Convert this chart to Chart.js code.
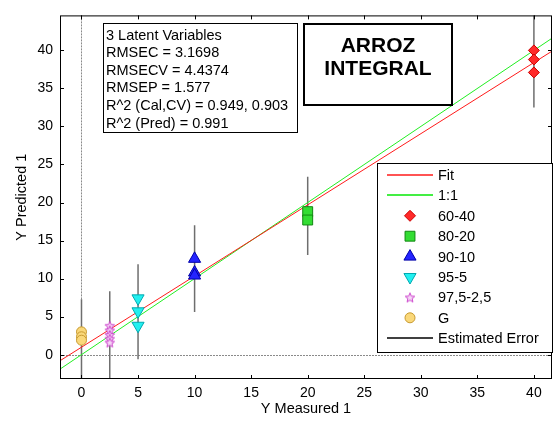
<!DOCTYPE html>
<html>
<head>
<meta charset="utf-8">
<script src="https://cdn.jsdelivr.net/npm/chart.js@4.4.0/dist/chart.umd.min.js"></script>
<style>
html, body { margin: 0; padding: 0; background: #fff; }
</style>
</head>
<body>
<canvas id="c" width="560" height="423"></canvas>
<script>
// values
const groups = ['60-40', '80-20', '90-10', '95-5', '97,5-2,5', 'G'];
const measured = [40, 20, 10, 5, 2.5, 0];
const pred6040 = [40.0, 38.8, 37.1];
const pred8020 = [18.8, 17.7];
const pred9010 = [12.6, 10.8, 10.4];
const pred955 = [7.4, 5.7, 3.8];
const pred9752 = [3.8, 3.2, 2.6, 2.1, 1.6];
const predG = [3.0, 2.35, 1.9];
const errLow = [32.5, 13.1, 5.6, -0.6, -5, -5];
const errHigh = [47, 23.4, 17.0, 11.9, 8.35, 7.3];
const lineX = [-1.9, 41.6];
const fitY = [-0.8, 39.9];
const oneY = [-1.9, 41.6];
const xTicks = [0, 5, 10, 15, 20, 25, 30, 35, 40];
const yTicks = [0, 5, 10, 15, 20, 25, 30, 35, 40];
const statsLines = ['3 Latent Variables', 'RMSEC = 3.1698', 'RMSECV = 4.4374', 'RMSEP = 1.577',
  'R^2 (Cal,CV) = 0.949, 0.903', 'R^2 (Pred) = 0.991'];
const titleLines = ['ARROZ', 'INTEGRAL'];

const FONT = 'Arial, "Liberation Sans", sans-serif';

function makeStar(size, fill, stroke) {
  const c = document.createElement('canvas');
  c.width = size; c.height = size;
  const g = c.getContext('2d');
  const cx = size / 2, cy = size / 2 + 0.5, R = size / 2 - 1, r = R * 0.45;
  g.beginPath();
  for (let i = 0; i < 10; i++) {
    const a = -Math.PI / 2 + i * Math.PI / 5;
    const rr = i % 2 ? r : R;
    g.lineTo(cx + rr * Math.cos(a), cy + rr * Math.sin(a));
  }
  g.closePath();
  g.fillStyle = fill; g.fill();
  g.strokeStyle = stroke; g.lineWidth = 1; g.stroke();
  return c;
}

const styles = [
  { pointStyle: 'rectRot', radius: 5.5, rotation: 0, bg: '#ff2a2a', border: '#cc0000' },
  { pointStyle: 'rect', radius: 7, rotation: 0, bg: '#33dd33', border: '#118811' },
  { pointStyle: 'triangle', radius: 7, rotation: 0, bg: '#2424ff', border: '#0000aa' },
  { pointStyle: 'triangle', radius: 7, rotation: 180, bg: '#22f0f0', border: '#00a8b0' },
  { pointStyle: makeStar(12, '#f6d6f6', '#cc44cc'), radius: 6, rotation: 0, bg: '#f6d6f6', border: '#cc44cc' },
  { pointStyle: 'circle', radius: 5, rotation: 0, bg: '#fad87a', border: '#c89a30' }
];
const preds = [pred6040, pred8020, pred9010, pred955, pred9752, predG];

const datasets = [];
groups.forEach((g, i) => {
  const s = styles[i];
  datasets.push({
    label: g,
    data: preds[i].map(y => ({ x: measured[i], y: y })),
    showLine: false,
    pointStyle: s.pointStyle,
    pointRadius: s.radius,
    pointRotation: s.rotation,
    pointBackgroundColor: s.bg,
    pointBorderColor: s.border,
    pointBorderWidth: 1,
    order: 0
  });
  datasets.push({
    label: 'Estimated Error',
    data: [{ x: measured[i], y: errLow[i] }, { x: measured[i], y: errHigh[i] }],
    showLine: true,
    borderColor: '#6e6e6e',
    borderWidth: 1.5,
    pointRadius: 0,
    order: 2
  });
});
datasets.push({
  label: 'Fit',
  data: lineX.map((x, i) => ({ x: x, y: fitY[i] })),
  showLine: true, borderColor: '#ff1a1a', borderWidth: 1, pointRadius: 0, order: 1
});
datasets.push({
  label: '1:1',
  data: lineX.map((x, i) => ({ x: x, y: oneY[i] })),
  showLine: true, borderColor: '#22ee22', borderWidth: 1, pointRadius: 0, order: 1
});

// dotted zero lines behind the data
const zeroLines = {
  id: 'zeroLines',
  beforeDatasetsDraw(chart) {
    const { ctx, chartArea: a, scales: { x, y } } = chart;
    ctx.save();
    ctx.lineWidth = 1;
    ctx.strokeStyle = '#8a8a8a';
    ctx.setLineDash([2, 1]);
    const py = Math.round(y.getPixelForValue(0)) + 0.5;
    ctx.beginPath(); ctx.moveTo(a.left, py); ctx.lineTo(a.right, py); ctx.stroke();
    const px = Math.round(x.getPixelForValue(0)) + 0.5;
    ctx.beginPath(); ctx.moveTo(px, a.top); ctx.lineTo(px, a.bottom); ctx.stroke();
    ctx.restore();
  }
};

// frame, inward ticks, text boxes and legend on top
const decor = {
  id: 'decor',
  afterDraw(chart) {
    const { ctx, chartArea: a, scales: { x, y } } = chart;
    ctx.save();
    ctx.strokeStyle = '#000';
    ctx.lineWidth = 1;
    ctx.strokeRect(a.left + 0.5, a.top + 0.5, a.right - a.left - 1, a.bottom - a.top - 1);
    ctx.beginPath();
    xTicks.forEach(v => {
      const px = Math.round(x.getPixelForValue(v)) + 0.5;
      ctx.moveTo(px, a.bottom); ctx.lineTo(px, a.bottom - 4);
      ctx.moveTo(px, a.top); ctx.lineTo(px, a.top + 4);
    });
    yTicks.forEach(v => {
      const py = Math.round(y.getPixelForValue(v)) + 0.5;
      ctx.moveTo(a.left, py); ctx.lineTo(a.left + 4, py);
      ctx.moveTo(a.right, py); ctx.lineTo(a.right - 4, py);
    });
    ctx.stroke();

    // stats box
    ctx.fillStyle = '#fff';
    ctx.fillRect(103, 23, 194, 109);
    ctx.strokeRect(103.5, 23.5, 194, 109);
    ctx.fillStyle = '#000';
    ctx.font = '14.5px ' + FONT;
    ctx.textBaseline = 'middle';
    ctx.textAlign = 'left';
    statsLines.forEach((t, i) => ctx.fillText(t, 106, 35.5 + i * 17.6));

    // title box
    ctx.fillStyle = '#fff';
    ctx.fillRect(303, 23, 149, 82);
    ctx.lineWidth = 2;
    ctx.strokeRect(304, 24, 148, 81);
    ctx.fillStyle = '#000';
    ctx.font = 'bold 21px ' + FONT;
    ctx.textAlign = 'center';
    titleLines.forEach((t, i) => ctx.fillText(t, 378, 46 + i * 23.5));

    // legend
    ctx.lineWidth = 1;
    ctx.fillStyle = '#fff';
    ctx.fillRect(377, 163, 175, 189);
    ctx.strokeStyle = '#000';
    ctx.strokeRect(377.5, 163.5, 175, 189);
    const rows = ['Fit', '1:1'].concat(groups, ['Estimated Error']);
    const lineCol = ['#ff1a1a', '#44ee44'];
    ctx.font = '14.5px ' + FONT;
    ctx.textAlign = 'left';
    ctx.textBaseline = 'middle';
    rows.forEach((lab, i) => {
      const cy = 175 + i * 20.4;
      if (i < 2 || i === rows.length - 1) {
        ctx.strokeStyle = i < 2 ? lineCol[i] : '#000';
        ctx.lineWidth = i === 1 ? 2 : 1.3;
        ctx.beginPath();
        ctx.moveTo(387, Math.round(cy)); ctx.lineTo(433, Math.round(cy));
        ctx.stroke();
      } else {
        const s = styles[i - 2];
        ctx.fillStyle = s.bg; ctx.strokeStyle = s.border; ctx.lineWidth = 1;
        Chart.helpers.drawPoint(ctx, { pointStyle: s.pointStyle, rotation: s.rotation, radius: s.radius, borderWidth: 1 }, 410, cy);
      }
      ctx.fillStyle = '#000';
      ctx.fillText(lab, 438, cy + 1);
    });
    ctx.restore();
  }
};

new Chart(document.getElementById('c'), {
  type: 'scatter',
  data: { datasets: datasets },
  options: {
    responsive: false,
    animation: false,
    events: [],
    layout: { padding: { top: 7, right: 2, left: 0, bottom: 0 } },
    plugins: { legend: { display: false }, tooltip: { enabled: false } },
    scales: {
      x: {
        type: 'linear', min: -1.9, max: 41.6,
        afterBuildTicks: s => { s.ticks = xTicks.map(v => ({ value: v })); },
        afterFit: s => { s.height = 44; },
        grid: { display: false, drawTicks: false },
        border: { display: false },
        ticks: { padding: 6, color: '#000', maxRotation: 0, autoSkip: false, font: { size: 14, family: FONT } },
        title: { display: true, text: 'Y Measured 1', color: '#000', font: { size: 14.5, family: FONT }, padding: { top: 0, bottom: 5 } }
      },
      y: {
        type: 'linear', min: -3.2, max: 44.6,
        afterBuildTicks: s => { s.ticks = yTicks.map(v => ({ value: v })); },
        afterFit: s => { s.width = 60; },
        grid: { display: false, drawTicks: false },
        border: { display: false },
        ticks: { padding: 7, color: '#000', autoSkip: false, font: { size: 14, family: FONT } },
        title: { display: true, text: 'Y Predicted 1', color: '#000', font: { size: 14.5, family: FONT }, padding: { top: 13, bottom: 0 } }
      }
    }
  },
  plugins: [zeroLines, decor]
});
</script>
</body>
</html>
